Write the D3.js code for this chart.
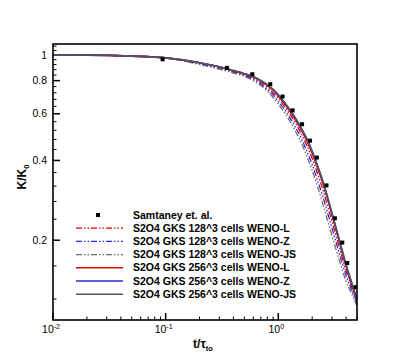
<!DOCTYPE html>
<html>
<head>
<meta charset="utf-8">
<script src="https://cdn.jsdelivr.net/npm/d3@7"></script>
<style>
  body { margin: 0; background: #fff; }
  svg { font-family: "Liberation Sans", Arial, sans-serif; }
</style>
</head>
<body>
<div id="chart"></div>
<script>
const WIDTH = 407, HEIGHT = 362
var margin = {top: 44, right: 50, bottom: 42, left: 53},
    width = WIDTH - margin.left - margin.right,
    height = HEIGHT - margin.top - margin.bottom

// times (t/tau_to) shared by all simulation curves
var times = [0.01, 0.02, 0.05, 0.1, 0.2, 0.3, 0.4, 0.5, 0.6, 0.7, 0.8, 0.9, 1.0,
             1.2, 1.4, 1.6, 1.8, 2.0, 2.25, 2.5, 2.75, 3.0, 3.5, 4.0, 4.5, 5.0]

var weno_l_128  = [1.0, 0.999, 0.99, 0.975, 0.929, 0.895, 0.866, 0.842, 0.816, 0.787, 0.755, 0.720, 0.686,
                   0.619, 0.559, 0.504, 0.454, 0.407, 0.353, 0.308, 0.267, 0.235, 0.186, 0.153, 0.132, 0.116]
var weno_z_128  = [1.0, 0.999, 0.99, 0.975, 0.925, 0.889, 0.860, 0.836, 0.808, 0.777, 0.742, 0.706, 0.669,
                   0.602, 0.540, 0.485, 0.432, 0.386, 0.333, 0.290, 0.252, 0.222, 0.177, 0.147, 0.129, 0.115]
var weno_js_128 = [1.0, 0.999, 0.99, 0.975, 0.921, 0.884, 0.855, 0.831, 0.800, 0.767, 0.730, 0.691, 0.652,
                   0.586, 0.522, 0.466, 0.413, 0.367, 0.315, 0.272, 0.236, 0.208, 0.167, 0.140, 0.125, 0.113]
var weno_l_256  = [1.0, 0.999, 0.99, 0.975, 0.934, 0.901, 0.871, 0.848, 0.825, 0.797, 0.767, 0.736, 0.701,
                   0.635, 0.576, 0.522, 0.473, 0.426, 0.371, 0.326, 0.284, 0.249, 0.196, 0.159, 0.136, 0.118]
var weno_z_256  = [1.0, 0.999, 0.99, 0.975, 0.935, 0.902, 0.873, 0.850, 0.828, 0.800, 0.771, 0.741, 0.707,
                   0.641, 0.583, 0.529, 0.480, 0.432, 0.377, 0.331, 0.288, 0.252, 0.198, 0.161, 0.137, 0.119]
var weno_js_256 = [1.0, 0.999, 0.99, 0.975, 0.935, 0.902, 0.873, 0.850, 0.828, 0.801, 0.772, 0.742, 0.708,
                   0.642, 0.584, 0.530, 0.481, 0.433, 0.378, 0.332, 0.289, 0.253, 0.199, 0.162, 0.138, 0.120]

// reference data (Samtaney et al.)
var ref_t = [0.094, 0.35, 0.588, 0.849, 1.092, 1.34, 1.626, 1.915, 2.20, 2.68, 3.18, 3.70, 4.10, 4.85]
var ref_k = [0.963, 0.894, 0.846, 0.776, 0.697, 0.618, 0.548, 0.475, 0.410, 0.322, 0.242, 0.196, 0.164, 0.133]

var y_ticks = [0.2, 0.4, 0.6, 0.8, 1]
var x_ticks = [0.01, 0.1, 1]

var series = [
  {name: "S2O4 GKS 128^3 cells WENO-L",  vals: weno_l_128,  color: "#e00000", dash: "6,2,1.5,2,1.5,2", w: 1.3},
  {name: "S2O4 GKS 128^3 cells WENO-Z",  vals: weno_z_128,  color: "#2a2ae6", dash: "6,2,1.5,2,1.5,2", w: 1.3},
  {name: "S2O4 GKS 128^3 cells WENO-JS", vals: weno_js_128, color: "#6e6e6e", dash: "6,2,1.5,2,1.5,2", w: 1.3},
  {name: "S2O4 GKS 256^3 cells WENO-L",  vals: weno_l_256,  color: "#e00000", dash: null, w: 1.6},
  {name: "S2O4 GKS 256^3 cells WENO-Z",  vals: weno_z_256,  color: "#2a2ae6", dash: null, w: 1.6},
  {name: "S2O4 GKS 256^3 cells WENO-JS", vals: weno_js_256, color: "#555555", dash: null, w: 1.6}
]

var svg = d3.select("#chart").append("svg")
  .attr("width", WIDTH).attr("height", HEIGHT)
  .append("g")
  .attr("transform", "translate(" + margin.left + "," + margin.top + ")")

var x = d3.scaleLog().domain([0.01, 5]).range([0, width])
var y = d3.scaleLog().domain([0.1, 1.1]).range([height, 0])

svg.append("defs").append("clipPath").attr("id", "clip")
  .append("rect").attr("width", width).attr("height", height)

// y ticks: major every 0.2, minor every 0.04
var y_minor = d3.range(3, 28).map(function(i) { return i * 0.04 })
  .filter(function(v) { return Math.abs(v / 0.2 - Math.round(v / 0.2)) > 1e-6 })
svg.selectAll(".ymin").data(y_minor).enter().append("line")
  .attr("x1", 0).attr("x2", 3.5)
  .attr("y1", function(d) { return y(d) }).attr("y2", function(d) { return y(d) })
  .attr("stroke", "#000").attr("stroke-width", 1)
svg.selectAll(".ymaj").data(y_ticks).enter().append("line")
  .attr("x1", 0).attr("x2", 7)
  .attr("y1", function(d) { return y(d) }).attr("y2", function(d) { return y(d) })
  .attr("stroke", "#000").attr("stroke-width", 1.5)
svg.selectAll(".ylab").data(y_ticks).enter().append("text")
  .attr("x", -6).attr("y", function(d) { return y(d) }).attr("dy", "0.35em")
  .attr("text-anchor", "end").attr("font-size", 10.5)
  .text(function(d) { return d })

// x ticks: decades with 2..9 minor
var x_minor = []
x_ticks.forEach(function(d) { for (var k = 2; k <= 9; k++) if (d * k <= 5) x_minor.push(d * k) })
svg.selectAll(".xmin").data(x_minor).enter().append("line")
  .attr("x1", function(d) { return x(d) }).attr("x2", function(d) { return x(d) })
  .attr("y1", height).attr("y2", height - 3.5)
  .attr("stroke", "#000").attr("stroke-width", 1)
svg.selectAll(".xmaj").data(x_ticks).enter().append("line")
  .attr("x1", function(d) { return x(d) }).attr("x2", function(d) { return x(d) })
  .attr("y1", height).attr("y2", height - 7)
  .attr("stroke", "#000").attr("stroke-width", 1.5)
var xl = svg.selectAll(".xlab").data(x_ticks).enter().append("text")
  .attr("x", function(d) { return x(d) - 2 }).attr("y", height + 13)
  .attr("text-anchor", "middle").attr("font-size", 10.5)
xl.append("tspan").text("10")
xl.append("tspan").attr("dy", -4).attr("font-size", 7)
  .text(function(d) { return Math.round(Math.log10(d)) < 0 ? "-" + Math.abs(Math.round(Math.log10(d))) : "0" })

// curves
var line = d3.line()
  .x(function(d) { return x(d[0]) })
  .y(function(d) { return y(d[1]) })
  .curve(d3.curveMonotoneX)

var plot = svg.append("g").attr("clip-path", "url(#clip)")
series.forEach(function(s) {
  plot.append("path")
    .datum(times.map(function(t, i) { return [t, s.vals[i]] }))
    .attr("d", line)
    .attr("fill", "none")
    .attr("stroke", s.color)
    .attr("stroke-width", s.w)
    .attr("stroke-dasharray", s.dash)
})

plot.selectAll(".ref").data(ref_t).enter().append("rect")
  .attr("x", function(d) { return x(d) - 2 })
  .attr("y", function(d, i) { return y(ref_k[i]) - 2 })
  .attr("width", 4).attr("height", 4)
  .attr("fill", "#000")

// frame
svg.append("rect").attr("width", width).attr("height", height)
  .attr("fill", "none").attr("stroke", "#000").attr("stroke-width", 1.6)

// axis titles
var xt = svg.append("text")
  .attr("x", width / 2 - 2).attr("y", height + 28)
  .attr("text-anchor", "middle").attr("font-size", 12).attr("font-weight", "bold")
xt.append("tspan").text("t/")
xt.append("tspan").text("\u03c4")
xt.append("tspan").attr("dy", 3).attr("font-size", 7.5).text("to")

var yt = svg.append("text")
  .attr("transform", "translate(" + (-27) + "," + (133) + ") rotate(-90)")
  .attr("text-anchor", "middle").attr("font-size", 12).attr("font-weight", "bold")
yt.append("tspan").text("K/K")
yt.append("tspan").attr("dy", 3).attr("font-size", 7.5).text("0")

// legend
var leg = svg.append("g").attr("transform", "translate(" + 23 + "," + 171 + ")")
leg.append("rect").attr("x", 20).attr("y", -2).attr("width", 4).attr("height", 4).attr("fill", "#000")
leg.append("text").attr("x", 57).attr("y", 0).attr("dy", "0.35em")
  .attr("font-size", 10.5).attr("font-weight", "bold").text("Samtaney et. al.")
series.forEach(function(s, i) {
  var yy = (i + 1) * 13.2
  leg.append("line").attr("x1", 0).attr("x2", 47).attr("y1", yy).attr("y2", yy)
    .attr("stroke", s.color).attr("stroke-width", s.w).attr("stroke-dasharray", s.dash)
  leg.append("text").attr("x", 57).attr("y", yy).attr("dy", "0.35em")
    .attr("font-size", 10.5).attr("font-weight", "bold").text(s.name)
})
</script>
</body>
</html>
